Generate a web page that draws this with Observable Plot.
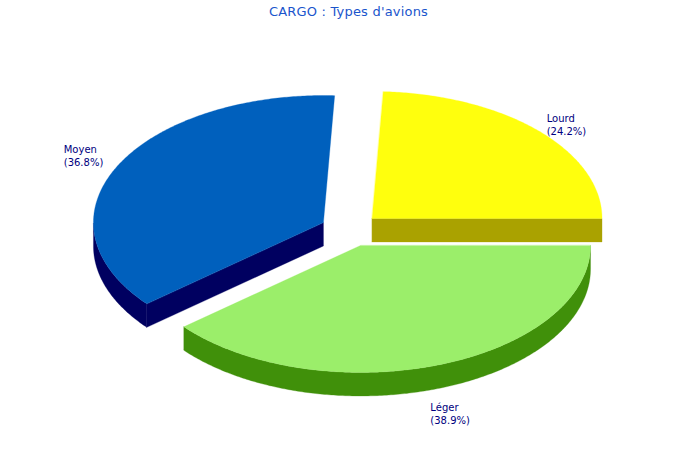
<!DOCTYPE html>
<html><head><meta charset="utf-8">
<script src="https://cdn.jsdelivr.net/npm/d3@7"></script>
<script src="https://cdn.jsdelivr.net/npm/@observablehq/plot@0.6"></script>
<style>
html,body{margin:0;padding:0;background:#fff}
#title{height:24px;width:700px;box-sizing:border-box;padding-right:3px;font:13px "DejaVu Sans";line-height:24px;text-align:center;color:#1a55cc;letter-spacing:.2px;white-space:pre}
svg{display:block}
</style></head><body>
<div id="title">CARGO : Types d'avions</div>
<div id="chart"></div>
<script>
const categories = ["Lourd", "Moyen", "Léger"];
const shares = [24.2, 36.8, 38.9];
const topColors = ["#ffff0d", "#0060bd", "#9bee6a"];
const sideColors = ["#aaa200", "#000060", "#40900a"];

// pie layout
const center = [349.8, 229.4], rx = 230, ry = 127, depth = 23.5, explode = 30;
const labelDx = [1.5, -1, -1], labelDy = [8, -1, 30];

const total = d3.sum(shares);
let start = 0;
const tops = [], sides = [], labels = [];
categories.forEach((name, i) => {
  const sweep = shares[i] / total * 2 * Math.PI;
  const mid = start + sweep / 2;
  const cx = center[0] + explode * Math.cos(mid);
  const cy = center[1] - explode * (ry / rx) * Math.sin(mid);
  const n = Math.ceil(sweep / 0.01);
  const arc = [];
  const front = [];
  for (let k = 0; k <= n; k++) {
    const t = start + sweep * k / n;
    const p = [cx + rx * Math.cos(t), cy - ry * Math.sin(t)];
    arc.push(p);
    if (Math.sin(t) <= 0) front.push(p);
  }
  const hub = [cx, cy];
  [hub, ...arc].forEach(([x, y]) => tops.push({id: name, fill: topColors[i], x, y}));
  // One wall per run of edges that face the viewer.
  const wall = (id, run) => {
    if (run.length < 2) return;
    [...run, ...run.slice().reverse().map(([x, y]) => [x, y + depth])]
      .forEach(([x, y]) => sides.push({id: `${name}-${id}`, fill: sideColors[i], x, y}));
  };
  const facing = (a, b) => (b[0] - a[0]) / Math.hypot(b[0] - a[0], b[1] - a[1]) > 0.5;
  wall("arc", front);
  if (facing(hub, arc[0])) wall("startEdge", [hub, arc[0]]);
  if (facing(arc[n], hub)) wall("endEdge", [arc[n], hub]);
  labels.push({
    text: `${name}\n(${shares[i].toFixed(1)}%)`,
    x: center[0] + 1.29 * rx * Math.cos(mid) - 20 + labelDx[i],
    y: center[1] - 1.29 * ry * Math.sin(mid) - 12 + labelDy[i]
  });
  start += sweep;
});

const poly = (data) => Plot.line(data, {
  x: "x", y: "y", z: "id", fill: "fill", stroke: "fill", strokeWidth: 0.3, curve: "linear-closed"
});

document.getElementById("chart").append(Plot.plot({
  width: 700, height: 436, margin: 0,
  x: {domain: [0, 700], range: [0, 700], axis: null},
  y: {domain: [24, 460], range: [0, 436], axis: null},
  marks: [
    poly(sides),
    poly(tops),
    Plot.text(labels, {x: "x", y: "y", text: "text", textAnchor: "start", lineAnchor: "top",
      fontFamily: "DejaVu Sans", fontSize: 10, lineHeight: 1.3, fill: "#000080",
      style: {letterSpacing: "0.6px"}})
  ]
}));
</script>
</body></html>
